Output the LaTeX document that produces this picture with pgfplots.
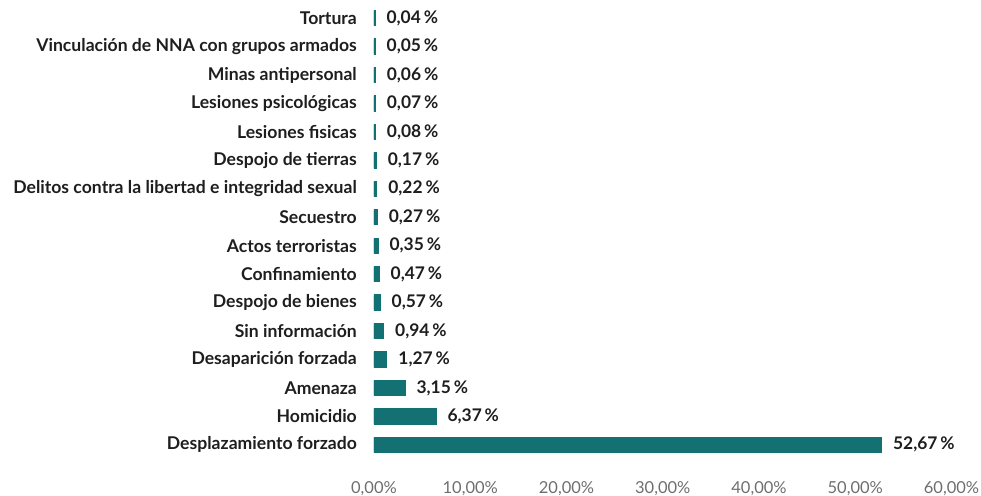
\documentclass[border=0pt]{standalone}
\usepackage{fontspec}
\setmainfont{Lato}
\usepackage{pgfplots}
\pgfplotsset{compat=1.18}
\definecolor{barc}{HTML}{137174}
\definecolor{txt}{HTML}{1E1E1E}
\definecolor{tick}{HTML}{6E6E6E}
\begin{document}
\begin{tikzpicture}
\begin{axis}[
  name=ax, at={(0,0)}, anchor=south west,
  scale only axis, width=577.5bp, height=455bp,
  xbar, bar width=14bp,
  xmin=0, xmax=60, ymin=-0.5, ymax=15.5,
  xtick={0,10,...,60},
  ytick={0,...,15},
  yticklabels={Desplazamiento forzado, Homicidio, Amenaza, Desaparición forzada, Sin información, Despojo de bienes, Confinamiento, Actos terroristas, Secuestro, Delitos contra la libertad e integridad sexual, Despojo de tierras, Lesiones fisicas, Lesiones psicológicas, Minas antipersonal, Vinculación de NNA con grupos armados, Tortura},
  axis line style={draw=none},
  major tick length=0pt,
  /pgf/number format/assume math mode=true,
  xticklabel={\pgfmathprintnumber[fixed,fixed zerofill,precision=2,use comma]{\tick}\%},
  xticklabel style={anchor=center, yshift=-30bp, inner sep=0pt, text=tick, font=\fontsize{16.5bp}{19bp}\selectfont},
  yticklabel style={anchor=east, xshift=-17bp, inner sep=0pt, text=txt, font=\fontsize{17.6bp}{20bp}\selectfont\bfseries},
  nodes near coords={\pgfmathprintnumber[fixed,fixed zerofill,precision=2,use comma,assume math mode=true]{\pgfplotspointmeta}\,\%},
  point meta=x,
  every node near coord/.append style={anchor=west, xshift=11bp, inner sep=0pt, text=txt, font=\fontsize{17.4bp}{20bp}\selectfont\bfseries},
]
\addplot[fill=barc, draw=barc, line width=2.4bp] coordinates {
(52.67,0) (6.37,1) (3.15,2) (1.27,3) (0.94,4) (0.57,5) (0.47,6) (0.35,7)
(0.27,8) (0.22,9) (0.17,10) (0.08,11) (0.07,12) (0.06,13) (0.05,14) (0.04,15)
};
\end{axis}
\pgfresetboundingbox
\path (-374bp,-37bp) rectangle (607bp,459bp);
\end{tikzpicture}
\end{document}
